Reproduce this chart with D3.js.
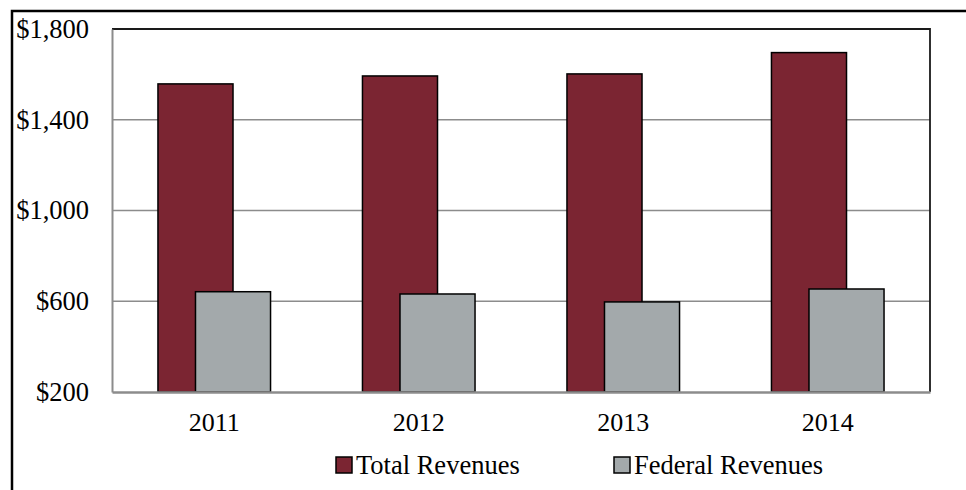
<!DOCTYPE html>
<html>
<head>
<meta charset="utf-8">
<script src="https://cdn.jsdelivr.net/npm/d3@7"></script>
<style>
  html, body { margin: 0; padding: 0; background: #fff; }
  svg { display: block; }
  text { font-family: "Liberation Serif", "Times New Roman", serif; fill: #000; }
</style>
</head>
<body>
<svg id="chart" width="966" height="490"></svg>
<script>
// Revenue by year, in millions of dollars
const years = ["2011", "2012", "2013", "2014"];
const totalRevenues = [1558, 1593, 1602, 1696];
const federalRevenues = [642, 632, 597, 654];
const seriesNames = ["Total Revenues", "Federal Revenues"];
const seriesColors = ["#7B2532", "#A3A9AB"];
const yTicks = [200, 600, 1000, 1400, 1800];

const svg = d3.select("#chart");
const W = 966, H = 490;
const plot = { left: 112, top: 29, right: 930, bottom: 392 };

// outer frame (continues past the right and bottom edges)
svg.append("rect")
  .attr("x", 12).attr("y", 11)
  .attr("width", W).attr("height", H)
  .attr("fill", "#fff")
  .attr("stroke", "#000").attr("stroke-width", 2.5);

const x = d3.scaleBand().domain(years).range([plot.left, plot.right]).padding(0);
const y = d3.scaleLinear().domain([200, 1800]).range([plot.bottom, plot.top]);

// bar geometry within each year band: two overlapping bars
const barW = x.bandwidth() * 0.367;
const shift = barW / 2;
const groupW = barW + shift;
const groupStart = d => x(d) + (x.bandwidth() - groupW) / 2;

// gridlines
svg.append("g")
  .selectAll("line")
  .data(yTicks.filter(t => t > 200 && t < 1800))
  .join("line")
  .attr("x1", plot.left).attr("x2", plot.right)
  .attr("y1", d => y(d)).attr("y2", d => y(d))
  .attr("stroke", "#8c8c8c").attr("stroke-width", 1.5);

// plot area border: top and right dark
svg.append("path")
  .attr("d", `M${plot.left},${plot.top}H${plot.right}V${plot.bottom}`)
  .attr("fill", "none")
  .attr("stroke", "#1a1a1a").attr("stroke-width", 1.8);

// total bars
svg.append("g")
  .selectAll("rect")
  .data(years.map((yr, i) => ({ yr, v: totalRevenues[i] })))
  .join("rect")
  .attr("x", d => groupStart(d.yr))
  .attr("y", d => y(d.v))
  .attr("width", barW)
  .attr("height", d => y(200) - y(d.v))
  .attr("fill", seriesColors[0])
  .attr("stroke", "#000").attr("stroke-width", 1.5);

// federal bars, overlapping the right half of the total bars
svg.append("g")
  .selectAll("rect")
  .data(years.map((yr, i) => ({ yr, v: federalRevenues[i] })))
  .join("rect")
  .attr("x", d => groupStart(d.yr) + shift)
  .attr("y", d => y(d.v))
  .attr("width", barW)
  .attr("height", d => y(200) - y(d.v))
  .attr("fill", seriesColors[1])
  .attr("stroke", "#000").attr("stroke-width", 1.5);

// y axis (gray line, labels only)
const yAxis = d3.axisLeft(y)
  .tickValues(yTicks)
  .tickSize(0)
  .tickPadding(23)
  .tickFormat(d => "$" + d3.format(",")(d));
const gy = svg.append("g")
  .attr("transform", `translate(${plot.left},0)`)
  .call(yAxis);
gy.select(".domain").attr("stroke", "#8c8c8c").attr("stroke-width", 2);
gy.selectAll("text")
  .attr("font-size", 26.5)
  .attr("font-family", "'Liberation Serif', 'Times New Roman', serif")
  .attr("fill", "#000");

// x axis
const xAxis = d3.axisBottom(x).tickSize(0).tickPadding(21);
const gx = svg.append("g")
  .attr("transform", `translate(0,${plot.bottom})`)
  .call(xAxis);
gx.select(".domain").attr("stroke", "#8c8c8c").attr("stroke-width", 2.5);
gx.selectAll("text")
  .attr("font-size", 26)
  .attr("font-family", "'Liberation Serif', 'Times New Roman', serif")
  .attr("fill", "#000");

// legend
const legendX = [336, 614];
const legend = svg.append("g")
  .selectAll("g")
  .data(seriesNames)
  .join("g")
  .attr("transform", (d, i) => `translate(${legendX[i]},457)`);
legend.append("rect")
  .attr("width", 16).attr("height", 16)
  .attr("fill", (d, i) => seriesColors[i])
  .attr("stroke", "#000").attr("stroke-width", 1.5);
legend.append("text")
  .attr("x", 20).attr("y", 17)
  .attr("font-size", 26.5)
  .text(d => d);
</script>
</body>
</html>
